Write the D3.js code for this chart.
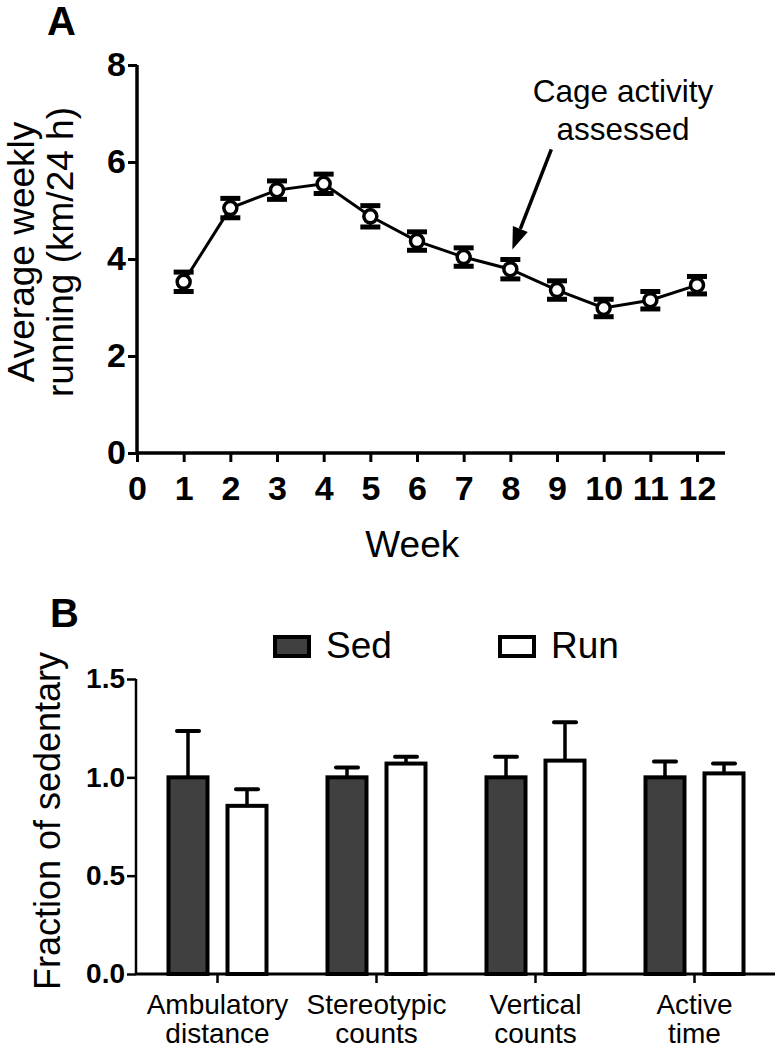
<!DOCTYPE html>
<html>
<head>
<meta charset="utf-8">
<script src="https://cdn.jsdelivr.net/npm/d3@7"></script>
<style>
  html, body { margin: 0; padding: 0; background: #fff; }
  svg { display: block; font-family: "Liberation Sans", Arial, Helvetica, sans-serif; }
</style>
</head>
<body>
<svg id="chart" width="775" height="1050"></svg>
<script>
// ---------- Panel A data ----------
const weeks = [1, 2, 3, 4, 5, 6, 7, 8, 9, 10, 11, 12];
const running = [3.53, 5.05, 5.42, 5.55, 4.88, 4.37, 4.04, 3.79, 3.36, 2.99, 3.15, 3.46];
const runningErr = [0.2, 0.2, 0.19, 0.2, 0.22, 0.19, 0.19, 0.2, 0.19, 0.18, 0.18, 0.18];
const weekTicks = [0, 1, 2, 3, 4, 5, 6, 7, 8, 9, 10, 11, 12];
const runTicks = [0, 2, 4, 6, 8];
const annotationWeek = 8;

// ---------- Panel B data ----------
const categories = [["Ambulatory", "distance"], ["Stereotypic", "counts"], ["Vertical", "counts"], ["Active", "time"]];
const seriesNames = ["Sed", "Run"];
const sedValues = [1.0, 1.0, 1.0, 1.0];
const sedErr = [0.235, 0.05, 0.105, 0.08];
const runValues = [0.855, 1.07, 1.085, 1.02];
const runErr = [0.085, 0.035, 0.195, 0.05];
const fracTicks = [0, 0.5, 1.0, 1.5];

const svg = d3.select("#chart");
const black = "#000";
const sedFill = "#404040";

// ================= Panel A =================
const xA = d3.scaleLinear().domain([0, 12.6]).range([137, 725]);
const yA = d3.scaleLinear().domain([0, 8]).range([453, 65]);

svg.append("text").attr("x", 47).attr("y", 35)
  .attr("font-size", 40).attr("font-weight", "bold").text("A");

const gA = svg.append("g");

// x axis
const xAxisA = d3.axisBottom(xA).tickValues(weekTicks).tickSize(9).tickSizeOuter(0).tickPadding(14).tickFormat(d3.format("d"));
const gxA = gA.append("g").attr("transform", `translate(0,${yA(0)})`).call(xAxisA);
gxA.select(".domain").attr("stroke-width", 3.5).attr("d", `M${xA(0)},0H${xA.range()[1]}`);
gxA.selectAll(".tick line").attr("stroke-width", 3);
gxA.selectAll(".tick text").attr("font-size", 34).attr("font-weight", "bold")
  .attr("font-family", "'Liberation Sans', Arial, sans-serif").attr("fill", black);

// y axis
const yAxisA = d3.axisLeft(yA).tickValues(runTicks).tickSize(9).tickSizeOuter(0).tickPadding(2);
const gyA = gA.append("g").attr("transform", `translate(${xA(0)},0)`).call(yAxisA);
gyA.select(".domain").attr("stroke-width", 3.5).attr("d", `M0,${yA(0)}V${yA(8)}`);
gyA.selectAll(".tick line").attr("stroke-width", 3);
gyA.selectAll(".tick text").attr("font-size", 34).attr("font-weight", "bold")
  .attr("font-family", "'Liberation Sans', Arial, sans-serif").attr("fill", black);

// axis titles
const ytA = svg.append("g").attr("transform", "translate(0,252) rotate(-90)");
ytA.append("text").attr("x", 0).attr("y", 34).attr("text-anchor", "middle").attr("font-size", 37).text("Average weekly");
ytA.append("text").attr("x", 0).attr("y", 73).attr("text-anchor", "middle").attr("font-size", 37).text("running (km/24 h)");

svg.append("text").attr("x", xA(5.9)).attr("y", 557).attr("text-anchor", "middle")
  .attr("font-size", 37).text("Week");

// line
const dataA = weeks.map((w, i) => ({ w, v: running[i], e: runningErr[i] }));
gA.append("path").datum(dataA)
  .attr("fill", "none").attr("stroke", black).attr("stroke-width", 3)
  .attr("d", d3.line().x(d => xA(d.w)).y(d => yA(d.v)));

// error bars
const eb = gA.selectAll(".eb").data(dataA).join("g").attr("class", "eb");
eb.append("line").attr("x1", d => xA(d.w)).attr("x2", d => xA(d.w))
  .attr("y1", d => yA(d.v - d.e)).attr("y2", d => yA(d.v + d.e))
  .attr("stroke", black).attr("stroke-width", 3);
eb.append("line").attr("x1", d => xA(d.w) - 10).attr("x2", d => xA(d.w) + 10)
  .attr("y1", d => yA(d.v + d.e)).attr("y2", d => yA(d.v + d.e))
  .attr("stroke", black).attr("stroke-width", 5);
eb.append("line").attr("x1", d => xA(d.w) - 10).attr("x2", d => xA(d.w) + 10)
  .attr("y1", d => yA(d.v - d.e)).attr("y2", d => yA(d.v - d.e))
  .attr("stroke", black).attr("stroke-width", 5);

// markers
gA.selectAll(".pt").data(dataA).join("circle").attr("class", "pt")
  .attr("cx", d => xA(d.w)).attr("cy", d => yA(d.v)).attr("r", 6.5)
  .attr("fill", "#fff").attr("stroke", black).attr("stroke-width", 3.5);

// annotation
const annIdx = weeks.indexOf(annotationWeek);
const tipX = xA(annotationWeek) + 2, tipY = yA(running[annIdx] + runningErr[annIdx]) - 10;
const startX = tipX + 39, startY = tipY - 100;
const ang = Math.atan2(tipY - startY, tipX - startX);
const headLen = 22, headW = 8;
const baseX = tipX - headLen * Math.cos(ang), baseY = tipY - headLen * Math.sin(ang);
svg.append("line").attr("x1", startX).attr("y1", startY).attr("x2", baseX).attr("y2", baseY)
  .attr("stroke", black).attr("stroke-width", 3.5);
svg.append("path").attr("fill", black)
  .attr("d", `M${tipX},${tipY}L${baseX + headW * Math.sin(ang)},${baseY - headW * Math.cos(ang)}L${baseX - headW * Math.sin(ang)},${baseY + headW * Math.cos(ang)}Z`);
svg.append("text").attr("x", 623).attr("y", 102).attr("text-anchor", "middle").attr("font-size", 31.5).text("Cage activity");
svg.append("text").attr("x", 623).attr("y", 140).attr("text-anchor", "middle").attr("font-size", 31.5).text("assessed");

// ================= Panel B =================
svg.append("text").attr("x", 50).attr("y", 627)
  .attr("font-size", 40).attr("font-weight", "bold").text("B");

const x0 = d3.scaleBand().domain(d3.range(categories.length)).range([138, 774]).paddingInner(0).paddingOuter(0);
const bw = x0.bandwidth();
const x1 = d3.scaleBand().domain(seriesNames).range([bw / 2 - 49, bw / 2 + 49]).paddingInner(0.339).paddingOuter(0);
const yB = d3.scaleLinear().domain([0, 1.5]).range([974, 679]);

const gB = svg.append("g");

const dataB = categories.map((c, i) => ({
  i,
  bars: [
    { s: "Sed", v: sedValues[i], e: sedErr[i] },
    { s: "Run", v: runValues[i], e: runErr[i] }
  ]
}));

const grp = gB.selectAll(".grp").data(dataB).join("g").attr("class", "grp")
  .attr("transform", d => `translate(${x0(d.i)},0)`);
const bar = grp.selectAll(".bar").data(d => d.bars).join("g").attr("class", "bar");
// error bars (upward only)
bar.append("line").attr("x1", d => x1(d.s) + x1.bandwidth() / 2).attr("x2", d => x1(d.s) + x1.bandwidth() / 2)
  .attr("y1", d => yB(d.v)).attr("y2", d => yB(d.v + d.e)).attr("stroke", black).attr("stroke-width", 3.5);
bar.append("line").attr("x1", d => x1(d.s) + x1.bandwidth() / 2 - 11).attr("x2", d => x1(d.s) + x1.bandwidth() / 2 + 11)
  .attr("y1", d => yB(d.v + d.e)).attr("y2", d => yB(d.v + d.e)).attr("stroke", black).attr("stroke-width", 4)
  .attr("stroke-linecap", "round");
bar.append("rect").attr("x", d => x1(d.s)).attr("width", x1.bandwidth())
  .attr("y", d => yB(d.v)).attr("height", d => yB(0) - yB(d.v))
  .attr("fill", d => d.s === "Sed" ? sedFill : "#fff").attr("stroke", black).attr("stroke-width", 4);

// axes
const yAxisB = d3.axisLeft(yB).tickValues(fracTicks).tickSize(9).tickSizeOuter(0).tickPadding(2).tickFormat(d3.format(".1f"));
const gyB = gB.append("g").attr("transform", "translate(136,0)").call(yAxisB);
gyB.select(".domain").attr("stroke-width", 2.5).attr("d", `M0,${yB(0)}V${yB(1.5)}`);
gyB.selectAll(".tick line").attr("stroke-width", 2.5);
gyB.selectAll(".tick text").attr("font-size", 28).attr("font-weight", "bold")
  .attr("font-family", "'Liberation Sans', Arial, sans-serif").attr("fill", black);

const xAxisB = d3.axisBottom(x0).tickSize(9).tickSizeOuter(0).tickFormat("");
const gxB = gB.append("g").attr("transform", `translate(0,${yB(0)})`).call(xAxisB);
gxB.select(".domain").attr("stroke-width", 3).attr("d", "M136,0H775");
gxB.selectAll(".tick line").attr("stroke-width", 2.5);

// category labels
const catLab = gB.selectAll(".cat").data(categories).join("text").attr("class", "cat")
  .attr("text-anchor", "middle").attr("font-size", 28)
  .attr("transform", (d, i) => `translate(${x0(i) + bw / 2},0)`);
catLab.append("tspan").attr("x", 0).attr("y", 1014).text(d => d[0]);
catLab.append("tspan").attr("x", 0).attr("y", 1043).text(d => d[1]);

// y title
svg.append("text").attr("transform", "translate(60,821) rotate(-90)")
  .attr("text-anchor", "middle").attr("font-size", 36).text("Fraction of sedentary");

// legend
const legendX = [273, 498];
const leg = svg.selectAll(".leg").data(seriesNames).join("g").attr("class", "leg")
  .attr("transform", (d, i) => `translate(${legendX[i]},635)`);
leg.append("rect").attr("x", 2).attr("y", 2).attr("width", 34).attr("height", 19)
  .attr("fill", d => d === "Sed" ? sedFill : "#fff").attr("stroke", black).attr("stroke-width", 4);
leg.append("text").attr("x", 53).attr("y", 23).attr("font-size", 37).text(d => d);
</script>
</body>
</html>
